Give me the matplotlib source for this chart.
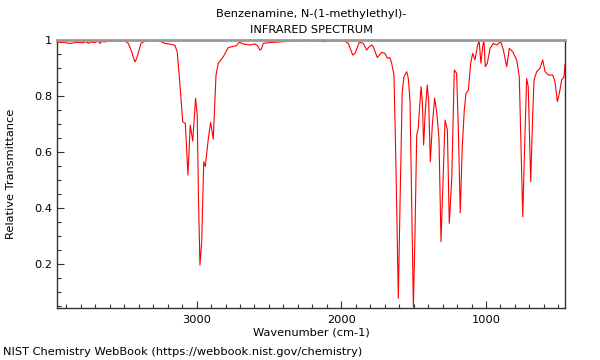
import matplotlib
matplotlib.use("Agg")
import matplotlib.pyplot as plt
from matplotlib.ticker import MultipleLocator, FixedLocator, FuncFormatter

title_lines = ["Benzenamine, N-(1-methylethyl)-", "INFRARED SPECTRUM"]
x_label = "Wavenumber (cm-1)"
y_label = "Relative Transmittance"
footer = "NIST Chemistry WebBook (https://webbook.nist.gov/chemistry)"

wavenumber = [
    3965, 3938, 3910, 3889, 3864, 3841, 3818, 3792, 3760, 3749, 3730, 3703,
    3680, 3668, 3654, 3634, 3611, 3585, 3553, 3530, 3495, 3472, 3449, 3436,
    3426, 3416, 3404, 3385, 3357, 3323, 3288, 3253, 3219, 3184, 3150, 3134,
    3115, 3096, 3078, 3060, 3044, 3027, 3007, 2996, 2987, 2977, 2965, 2951,
    2940, 2919, 2903, 2885, 2866, 2850, 2816, 2781, 2749, 2728, 2705, 2678,
    2654, 2631, 2597, 2579, 2562, 2552, 2539, 2493, 2401, 2355, 2286, 2170,
    2125, 2055, 1975, 1952, 1921, 1905, 1876, 1848, 1825, 1809, 1790, 1779,
    1751, 1721, 1698, 1682, 1664, 1652, 1636, 1622, 1606, 1594, 1579, 1567,
    1548, 1537, 1525, 1514, 1502, 1491, 1479, 1468, 1461, 1449, 1440, 1431,
    1420, 1406, 1396, 1385, 1371, 1355, 1341, 1325, 1311, 1297, 1283, 1267,
    1254, 1237, 1219, 1203, 1191, 1178, 1164, 1150, 1138, 1122, 1106, 1092,
    1076, 1060, 1048, 1035, 1023, 1014, 1005, 991, 972, 950, 926, 898,
    880, 857, 839, 815, 788, 770, 746, 733, 719, 708, 691, 677,
    668, 650, 627, 608, 592, 569, 539, 523, 507, 493, 477, 461, 454,
]
transmittance = [
    0.993, 0.991, 0.992, 0.988, 0.988, 0.991, 0.992, 0.990, 0.994, 0.988, 0.993, 0.991,
    0.996, 0.988, 0.995, 0.993, 0.996, 0.995, 0.997, 0.996, 0.996, 0.988, 0.958, 0.936,
    0.922, 0.932, 0.952, 0.988, 0.996, 0.998, 0.999, 0.996, 0.988, 0.985, 0.981, 0.958,
    0.839, 0.708, 0.702, 0.518, 0.696, 0.639, 0.792, 0.732, 0.430, 0.196, 0.280, 0.565,
    0.548, 0.649, 0.706, 0.646, 0.875, 0.917, 0.940, 0.973, 0.977, 0.979, 0.992, 0.986,
    0.984, 0.982, 0.986, 0.979, 0.964, 0.968, 0.988, 0.991, 0.994, 0.996, 0.998, 1.000,
    0.994, 1.000, 0.996, 0.988, 0.946, 0.952, 0.992, 0.988, 0.964, 0.975, 0.982, 0.976,
    0.937, 0.956, 0.952, 0.935, 0.937, 0.917, 0.875, 0.542, 0.078, 0.420, 0.815, 0.869,
    0.887, 0.863, 0.780, 0.420, 0.046, 0.300, 0.660, 0.685, 0.744, 0.833, 0.780, 0.625,
    0.744, 0.839, 0.780, 0.565, 0.696, 0.792, 0.744, 0.649, 0.280, 0.500, 0.714, 0.679,
    0.345, 0.500, 0.893, 0.881, 0.679, 0.383, 0.619, 0.750, 0.810, 0.821, 0.917, 0.952,
    0.929, 0.976, 1.000, 0.917, 0.976, 1.000, 0.905, 0.917, 0.970, 0.988, 0.982, 0.994,
    0.964, 0.905, 0.970, 0.958, 0.929, 0.869, 0.369, 0.619, 0.863, 0.833, 0.494, 0.738,
    0.857, 0.887, 0.899, 0.929, 0.887, 0.875, 0.875, 0.851, 0.780, 0.810, 0.857, 0.869, 0.911,
]

x_major = [3000, 2000, 1000]
x_limits = (3965, 454)
y_limits = (0.043, 1.0)

fs = 8.2
fig = plt.figure(figsize=(6, 3.6), dpi=100)
ax = fig.add_axes([57 / 600, 52 / 360, 508 / 600, 268 / 360])
ax.plot(wavenumber, transmittance, color="#ff0000", lw=0.8)
ax.set_xlim(*x_limits)
ax.set_ylim(*y_limits)

ax.xaxis.set_major_locator(FixedLocator(x_major))
ax.xaxis.set_minor_locator(MultipleLocator(100))
ax.yaxis.set_major_locator(MultipleLocator(0.2))
ax.yaxis.set_minor_locator(MultipleLocator(0.05))
ax.yaxis.set_major_formatter(FuncFormatter(lambda v, p: "%g" % round(v, 3)))
ax.tick_params(which="both", direction="in", top=False, right=False,
               labelsize=fs, color="#333333")
ax.tick_params(which="major", length=5, width=0.8)
ax.tick_params(which="minor", length=3, width=0.8)
ax.tick_params(axis="x", which="major", pad=5)

for s in ["left", "bottom", "right"]:
    ax.spines[s].set_color("#333333")
    ax.spines[s].set_linewidth(1.0)
ax.spines["top"].set_color("#999999")
ax.spines["top"].set_linewidth(2.0)

ax.set_xlabel(x_label, fontsize=fs, labelpad=2)
ax.set_ylabel(y_label, fontsize=fs, labelpad=13)
ax.set_title("\n".join(title_lines), fontsize=fs, pad=5, linespacing=1.75)
fig.text(3 / 600, 1 - 352 / 360, footer, fontsize=fs, va="center", ha="left")

fig.savefig("out.png", dpi=100)
